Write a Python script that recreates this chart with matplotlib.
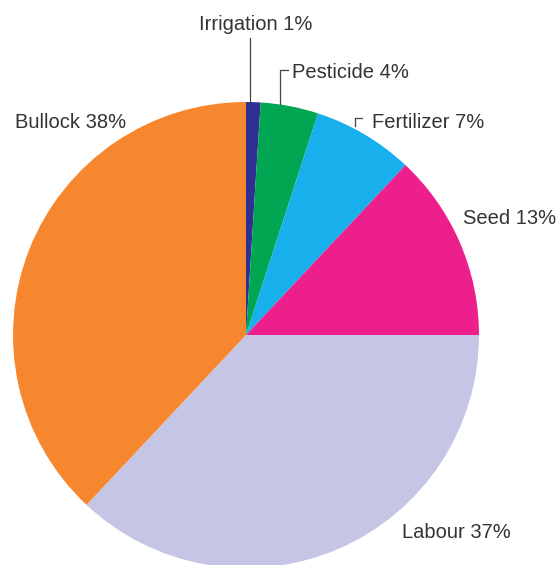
import matplotlib.pyplot as plt
import numpy as np

# Cost shares, clockwise from the top
categories = ['Irrigation', 'Pesticide', 'Fertilizer', 'Seed', 'Labour', 'Bullock']
shares = [1, 4, 7, 13, 37, 38]
colors = ['#2e3192', '#00a651', '#17afec', '#ec1f8c', '#c5c5e5', '#f6872f']

W, H = 558, 565
cx, cy, r = 246, H - 335, 233   # pie centre / radius in pixel units

fig = plt.figure(figsize=(W / 100, H / 100), dpi=100)
ax = fig.add_axes([0, 0, 1, 1])

wedges, _ = ax.pie(shares, colors=colors, startangle=90, counterclock=False,
                   center=(cx, cy), radius=r, wedgeprops=dict(linewidth=0))
ax.set_xlim(0, W)
ax.set_ylim(0, H)
ax.axis('off')

def rim(w, frac):
    # point on the outer rim, part way through a wedge
    a = np.deg2rad(w.theta2 - frac * (w.theta2 - w.theta1))
    return cx + r * np.cos(a), cy + r * np.sin(a)

txt = dict(fontsize=14.5, color='#333333', family=['Liberation Sans', 'DejaVu Sans'], va='center')
lab = ['%s %d%%' % (c, s) for c, s in zip(categories, shares)]

# Irrigation: straight leader up to the label
x0, y0 = rim(wedges[0], 0.3)
ax.plot([x0, x0], [y0, H - 38], color='#444444', lw=0.9)
ax.text(x0 - 51, H - 25, lab[0], **txt)

# Pesticide: leader with a small hook
x1, y1 = rim(wedges[1], 0.33)
ax.plot([x1, x1, x1 + 8], [y1, H - 70, H - 70], color='#444444', lw=0.9)
ax.text(292, H - 73, lab[1], **txt)

# Fertilizer: short bracket only
ax.plot([355, 355, 362], [H - 126, H - 118, H - 118], color='#444444', lw=0.9)
ax.text(372, H - 123, lab[2], **txt)

ax.text(463, H - 219, lab[3], **txt)
ax.text(402, H - 533, lab[4], **txt)
ax.text(15, H - 122, lab[5], **txt)

plt.savefig('out.png', dpi=100)
